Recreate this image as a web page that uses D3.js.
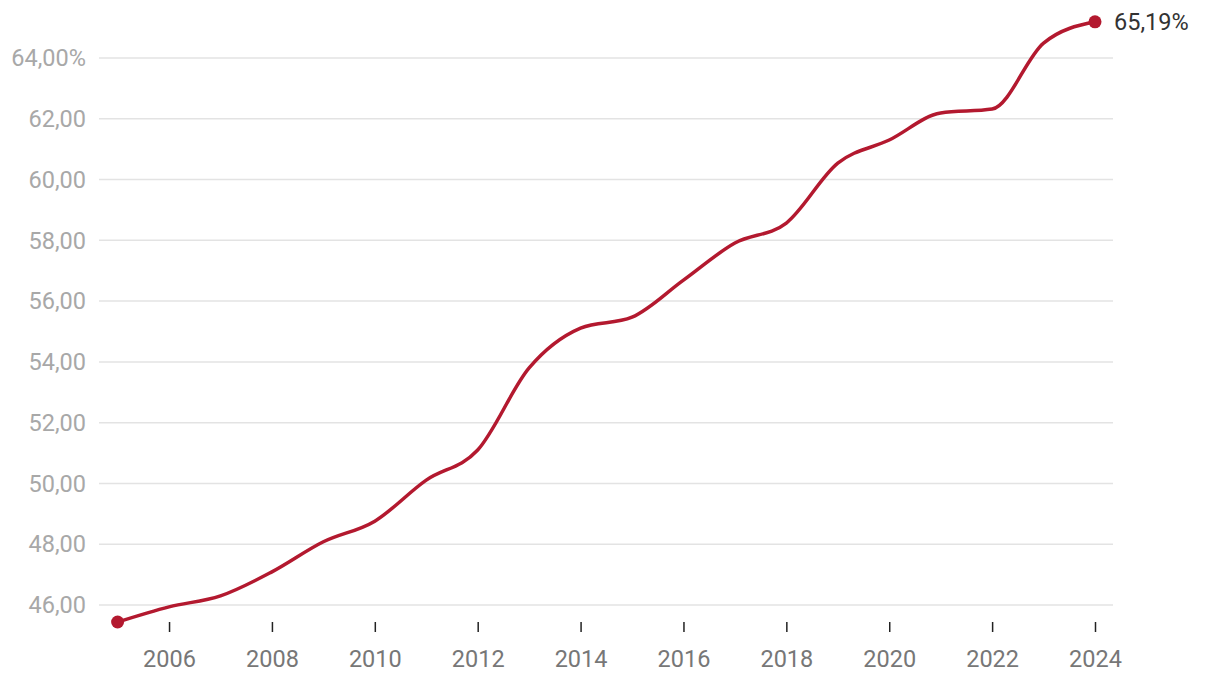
<!DOCTYPE html>
<html><head><meta charset="utf-8">
<script src="https://cdn.jsdelivr.net/npm/d3@7"></script>
<style>body{margin:0;background:#fff}svg{font-family:Roboto,sans-serif}</style>
</head><body>
<svg id="c" width="1220" height="682"></svg>
<script>
const years = [2005,2006,2007,2008,2009,2010,2011,2012,2013,2014,2015,2016,2017,2018,2019,2020,2021,2022,2023,2024];
const values = [45.44,45.94,46.30,47.09,48.08,48.76,50.11,51.10,53.80,55.11,55.47,56.69,57.91,58.57,60.54,61.30,62.19,62.32,64.49,65.19];
const yTicks = [46,48,50,52,54,56,58,60,62,64];
const xTicks = [2006,2008,2010,2012,2014,2016,2018,2020,2022,2024];
const endLabel = "65,19%";

const FS = 23.5;
const svg = d3.select("#c");
const x = d3.scaleLinear().domain([2005,2024]).range([117.6,1095]);
const y = d3.scaleLinear().domain([46,64]).range([605,58]);
const fmt = v => d3.format(".2f")(v).replace(".", ",");

const gy = svg.append("g");
gy.selectAll("line").data(yTicks).join("line")
  .attr("x1",99).attr("x2",1113).attr("y1",d=>y(d)).attr("y2",d=>y(d))
  .attr("stroke","#e3e3e3").attr("stroke-width",1.5);
gy.selectAll("text").data(yTicks).join("text")
  .attr("x",86).attr("y",d=>y(d)).attr("dy","0.35em").attr("text-anchor","end")
  .attr("fill","#a8a8a8").attr("font-size",FS)
  .text(d => fmt(d) + (d===64?"%":""));

const xAxis = d3.axisBottom(x).tickValues(xTicks).tickFormat(d3.format("d")).tickSize(10).tickPadding(18);
const gx = svg.append("g").attr("transform","translate(0,622)").call(xAxis);
gx.select(".domain").remove();
gx.selectAll(".tick line").attr("stroke","#222").attr("stroke-width",1.5);
gx.selectAll(".tick text").attr("fill","#777").attr("font-size",FS).attr("font-family","Roboto,sans-serif");

const data = years.map((yr,i)=>({yr, v:values[i]}));
const line = d3.line().x(d=>x(d.yr)).y(d=>y(d.v)).curve(d3.curveMonotoneX);
svg.append("path").datum(data).attr("d",line).attr("fill","none")
  .attr("stroke","#b3192f").attr("stroke-width",3.5).attr("stroke-linejoin","round");

const ends = [data[0], data[data.length-1]];
svg.selectAll("circle.end").data(ends).join("circle").attr("class","end")
  .attr("cx",d=>x(d.yr)).attr("cy",d=>y(d.v)).attr("r",6.5).attr("fill","#b3192f");

svg.append("text").attr("x",x(2024)+19).attr("y",y(values[values.length-1])).attr("dy","0.35em")
  .attr("fill","#333").attr("font-size",FS).text(endLabel);
</script>
</body></html>
